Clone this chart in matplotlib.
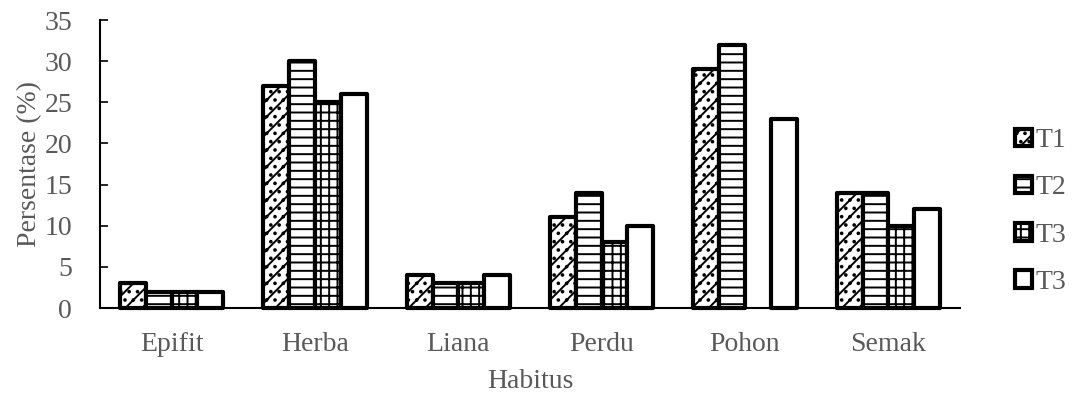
import numpy as np
import matplotlib
matplotlib.use("Agg")
import matplotlib.pyplot as plt

categories = ["Epifit", "Herba", "Liana", "Perdu", "Pohon", "Semak"]
series_labels = ["T1", "T2", "T3", "T3"]
t1 = [3, 27, 4, 11, 29, 14]
t2 = [2, 30, 3, 14, 32, 14]
t3a = [2, 25, 3, 8, 0, 10]
t3b = [2, 26, 4, 10, 23, 12]
yticks = [0, 5, 10, 15, 20, 25, 30, 35]

series = [t1, t2, t3a, t3b]
hatches = ["//..", "--", "++", ""]

plt.rcParams['font.family'] = ['Liberation Serif', 'DejaVu Serif']
plt.rcParams['hatch.linewidth'] = 1.4
plt.rcParams['hatch.color'] = 'black'
gray = '#595959'
fs = 20

fig = plt.figure(figsize=(10.73, 3.96), dpi=100)
ax = fig.add_axes([100/1073, 1-308/396, 860/1073, 288/396])

x = np.arange(len(categories))
w = 0.18
for i, (vals, lab, h) in enumerate(zip(series, series_labels, hatches)):
    vals = np.array(vals, dtype=float)
    offs = (i - 1.5) * w
    lw = np.where(vals > 0, 3.0, 0.0)
    bars = ax.bar(x + offs, vals, width=w, facecolor='white', edgecolor='black',
                  linewidth=lw, hatch=h, label=lab, joinstyle='round', zorder=3)
    for b in bars:
        b.set_clip_on(False)

ax.set_xlim(-0.5, len(categories) - 0.5)
ax.set_ylim(0, 35)
ax.set_yticks(yticks)
ax.set_xticks(x)
ax.set_xticklabels(categories)
for s in ['top', 'right']:
    ax.spines[s].set_visible(False)
ax.spines['left'].set_linewidth(1.5)
ax.spines['bottom'].set_linewidth(1.5)
ax.tick_params(axis='y', direction='in', length=6, width=1.2, labelsize=fs, labelcolor=gray, pad=20)
ax.tick_params(axis='x', length=0, labelsize=fs, labelcolor=gray, pad=17)
ax.set_xlabel("Habitus", fontsize=fs, color=gray, labelpad=9)
ax.set_ylabel("Persentase (%)", fontsize=fs, color=gray, labelpad=2)

leg = ax.legend(loc='center left', bbox_to_anchor=(1.064, 0.335), frameon=False,
                fontsize=fs, handlelength=0.6, handleheight=0.6, handletextpad=0.15,
                labelspacing=0.8, labelcolor=gray, borderaxespad=0, borderpad=0)
for p in leg.get_patches():
    p.set_linewidth(3)

fig.savefig("out.png", dpi=100)
